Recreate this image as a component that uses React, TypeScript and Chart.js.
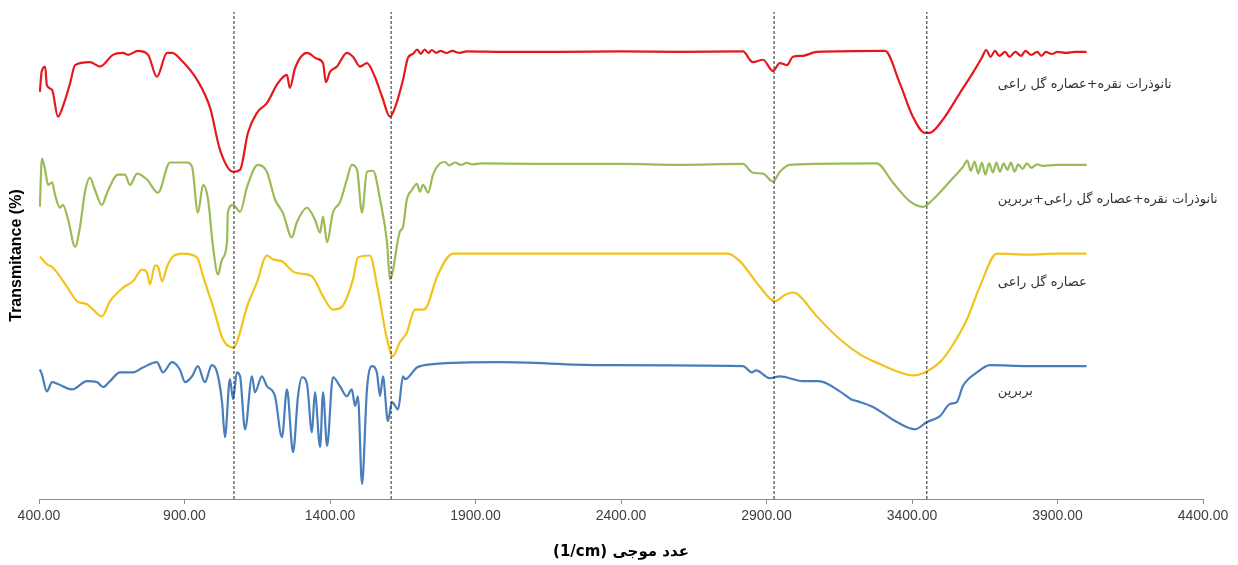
import { useEffect, useRef } from "react";
import { Chart, registerables } from "chart.js";

Chart.register(...registerables);

const X_MIN = 400;
const X_MAX = 4400;
const X_STEP = 500;
const Y_MIN = 0;
const Y_MAX = 100;

const X_TITLE = "\u202Bعدد موجی \u2066(1/cm)\u2069\u202C";
const Y_TITLE = "Transmitance (%)";

const PEAK_LINES = [1070, 1610, 2926, 3451];

const SERIES_NAMES = [
  "نانوذرات نقره+عصاره گل راعی",
  "نانوذرات نقره+عصاره گل راعی+بربرین",
  "عصاره گل راعی",
  "بربرین",
];
const SERIES_COLORS = ["#E5191C", "#9BBB59", "#F2C31B", "#4A7EBB"];
const LABEL_WN = 3695;
const LABEL_T = [85.0, 61.5, 44.5, 22.1];

// Silver nanoparticles + extract (red)
const agNpExtract: [number, number][] = [
  [403, 83.6], [409, 87.7], [421, 88.8], [427, 85.0], [445, 84.0], [465, 78.5], [482, 80.6], [507, 85.4],
  [524, 89.1], [575, 89.7], [610, 88.8], [654, 91.2], [689, 91.6], [706, 91.2], [740, 92.0], [775, 91.2],
  [805, 86.7], [840, 91.6], [857, 91.6], [891, 90.0], [943, 86.1], [988, 80.3], [1022, 71.7], [1067, 67.2],
  [1091, 67.6], [1118, 75.2], [1149, 79.3], [1183, 81.3], [1221, 85.4], [1252, 87.1], [1262, 84.4], [1280, 88.5],
  [1321, 91.6], [1355, 90.4], [1376, 89.5], [1386, 85.6], [1400, 87.7], [1424, 88.8], [1458, 91.6], [1479, 90.8],
  [1503, 88.8], [1527, 89.5], [1554, 86.7], [1579, 82.6], [1606, 78.5], [1623, 80.3], [1651, 86.1], [1668, 90.6],
  [1685, 91.4], [1700, 92.3], [1712, 91.4], [1725, 92.3], [1738, 91.6], [1750, 92.2], [1765, 91.6], [1780, 92.0],
  [1800, 91.6], [1820, 92.0], [1845, 91.6], [1870, 91.9], [2000, 91.8], [2200, 91.8], [2400, 91.9], [2600, 91.8],
  [2819, 91.9], [2853, 89.7], [2888, 90.2], [2922, 87.9], [2946, 89.5], [2970, 89.1], [2991, 90.8], [3025, 91.0],
  [3073, 91.8], [3307, 92.0], [3358, 85.4], [3403, 78.5], [3444, 75.2], [3461, 75.2], [3506, 77.9], [3565, 83.4],
  [3609, 87.5], [3640, 90.6], [3655, 92.2], [3670, 90.8], [3685, 92.0], [3700, 91.0], [3720, 91.8], [3735, 90.8],
  [3755, 91.8], [3775, 91.0], [3790, 92.0], [3810, 91.2], [3830, 91.8], [3845, 91.0], [3860, 91.8], [3880, 91.4],
  [3900, 91.8], [3930, 91.6], [3960, 91.8], [4000, 91.8],
];

// Silver nanoparticles + extract + berberine (green)
const agNpExtractBerberine: [number, number][] = [
  [403, 60.0], [410, 69.9], [421, 67.6], [431, 64.5], [445, 65.0], [455, 62.5], [472, 59.8], [482, 60.4],
  [500, 57.4], [524, 51.8], [541, 55.9], [558, 63.1], [575, 66.0], [592, 63.5], [616, 60.4], [634, 62.9],
  [671, 66.6], [695, 66.6], [713, 64.5], [737, 66.8], [771, 65.6], [809, 62.9], [850, 69.1], [909, 69.1],
  [926, 68.2], [946, 58.8], [964, 64.5], [981, 61.5], [998, 51.8], [1015, 46.1], [1029, 49.2], [1046, 52.7],
  [1049, 58.8], [1067, 60.4], [1091, 59.0], [1115, 64.1], [1152, 68.6], [1183, 67.2], [1211, 61.5], [1238, 58.8],
  [1269, 53.7], [1286, 56.8], [1321, 59.8], [1348, 57.4], [1366, 54.7], [1376, 58.0], [1390, 52.7], [1410, 58.8],
  [1434, 60.9], [1458, 65.6], [1475, 68.6], [1493, 67.6], [1510, 58.8], [1527, 67.2], [1548, 67.4], [1572, 61.5],
  [1596, 52.7], [1606, 45.1], [1640, 54.9], [1651, 55.9], [1664, 61.5], [1682, 63.5], [1699, 64.7], [1709, 63.1],
  [1720, 64.5], [1737, 62.9], [1754, 66.6], [1778, 68.9], [1795, 69.2], [1810, 68.5], [1830, 69.1], [1850, 68.6],
  [1870, 69.0], [1890, 68.7], [1920, 68.9], [2100, 68.8], [2400, 68.8], [2600, 68.6], [2819, 68.8], [2853, 67.0],
  [2888, 66.8], [2922, 65.2], [2946, 67.2], [2980, 68.6], [3279, 68.9], [3334, 65.0], [3393, 61.1], [3437, 60.0],
  [3472, 61.5], [3530, 65.2], [3575, 68.2], [3590, 69.5], [3602, 67.4], [3615, 69.3], [3628, 66.8], [3640, 69.1],
  [3652, 66.6], [3665, 68.9], [3678, 67.0], [3690, 69.1], [3702, 67.2], [3715, 68.9], [3728, 67.6], [3740, 69.1],
  [3752, 67.2], [3765, 68.7], [3780, 67.8], [3795, 68.9], [3810, 68.0], [3830, 68.7], [3850, 68.4], [3900, 68.6],
  [3950, 68.6], [4000, 68.6],
];

// Extract (yellow)
const extractOnly: [number, number][] = [
  [403, 49.8], [427, 48.2], [448, 47.5], [496, 43.6], [531, 40.6], [565, 40.0], [586, 38.9], [616, 37.5],
  [644, 40.6], [689, 43.4], [723, 44.7], [754, 47.1], [771, 46.5], [781, 44.1], [799, 48.0], [809, 47.7],
  [823, 44.7], [840, 47.7], [860, 49.8], [895, 50.4], [943, 49.6], [964, 45.7], [998, 39.5], [1032, 32.8],
  [1067, 31.1], [1080, 32.2], [1115, 39.5], [1149, 44.5], [1183, 50.0], [1204, 49.2], [1235, 48.8], [1273, 46.7],
  [1297, 46.3], [1338, 45.7], [1376, 41.6], [1410, 38.9], [1441, 39.5], [1479, 45.1], [1496, 49.6], [1537, 50.0],
  [1561, 44.1], [1596, 32.8], [1616, 29.3], [1640, 32.2], [1664, 34.2], [1692, 38.9], [1719, 38.9], [1733, 39.5],
  [1768, 45.7], [1823, 50.4], [2000, 50.4], [2300, 50.4], [2600, 50.4], [2767, 50.4], [2809, 48.8], [2877, 43.6],
  [2929, 40.6], [2960, 41.8], [2991, 42.4], [3008, 42.0], [3073, 37.5], [3152, 32.8], [3221, 29.7], [3290, 27.7],
  [3358, 26.0], [3403, 25.4], [3444, 26.0], [3496, 28.1], [3530, 30.7], [3589, 36.9], [3633, 43.6], [3692, 50.4],
  [3800, 50.2], [3900, 50.4], [4000, 50.4],
];

// Berberine (blue)
const berberine: [number, number][] = [
  [403, 26.6], [410, 25.6], [427, 22.1], [445, 24.0], [465, 23.6], [513, 22.5], [565, 24.2], [599, 24.0],
  [620, 23.0], [644, 24.2], [678, 26.0], [723, 26.0], [757, 27.0], [805, 28.1], [826, 26.0], [857, 28.1],
  [884, 26.6], [902, 24.0], [926, 25.2], [946, 27.3], [970, 24.0], [994, 27.5], [1012, 26.0], [1029, 19.9],
  [1039, 12.7], [1056, 24.6], [1067, 20.5], [1080, 26.0], [1091, 25.2], [1108, 14.3], [1132, 25.2], [1142, 21.9],
  [1166, 25.2], [1183, 23.2], [1211, 21.1], [1235, 12.7], [1252, 22.5], [1273, 9.6], [1290, 21.1], [1304, 25.0],
  [1321, 23.6], [1338, 13.7], [1348, 21.9], [1366, 10.7], [1376, 21.9], [1390, 10.9], [1410, 25.0], [1434, 23.2],
  [1458, 21.1], [1475, 22.5], [1486, 19.1], [1496, 21.1], [1510, 3.1], [1527, 22.5], [1544, 27.3], [1561, 26.0],
  [1572, 21.1], [1582, 25.2], [1599, 16.0], [1613, 19.9], [1634, 18.4], [1651, 25.2], [1658, 24.6], [1699, 27.0],
  [1754, 27.7], [1984, 28.1], [2328, 27.5], [2819, 27.3], [2850, 26.0], [2864, 26.4], [2912, 24.8], [2946, 25.2],
  [3025, 24.2], [3080, 24.2], [3152, 22.1], [3190, 20.5], [3211, 20.1], [3266, 18.9], [3348, 15.8], [3410, 14.3],
  [3451, 15.8], [3496, 17.0], [3530, 19.5], [3554, 19.9], [3575, 23.2], [3623, 26.0], [3668, 27.5], [3800, 27.3],
  [4000, 27.3],
];

const SERIES = [agNpExtract, agNpExtractBerberine, extractOnly, berberine];

const labelPlugin = {
  id: "seriesLabels",
  afterDatasetsDraw(chart: any) {
    const { ctx, scales } = chart;
    const x = scales.x;
    const y = scales.y;
    ctx.save();
    ctx.font = "13px 'DejaVu Sans'";
    ctx.fillStyle = "#333333";
    ctx.textBaseline = "middle";
    ctx.direction = "rtl";
    ctx.textAlign = "left";
    SERIES_NAMES.forEach((name, i) => {
      ctx.fillText(name, x.getPixelForValue(LABEL_WN), y.getPixelForValue(LABEL_T[i]));
    });
    ctx.restore();
  },
};

export default function App() {
  const canvasRef = useRef<HTMLCanvasElement | null>(null);

  useEffect(() => {
    if (!canvasRef.current) return;
    const datasets: any[] = SERIES.map((pts, i) => ({
      label: SERIES_NAMES[i],
      data: pts.map(([wn, t]) => ({ x: wn, y: t })),
      borderColor: SERIES_COLORS[i],
      backgroundColor: SERIES_COLORS[i],
      borderWidth: 2.2,
      pointRadius: 0,
      cubicInterpolationMode: "monotone",
      fill: false,
      order: 2,
    }));
    PEAK_LINES.forEach((wn) => {
      datasets.push({
        label: "peak " + wn,
        data: [
          { x: wn, y: Y_MIN },
          { x: wn, y: Y_MAX },
        ],
        borderColor: "#222222",
        borderWidth: 1,
        borderDash: [3, 2],
        pointRadius: 0,
        fill: false,
        order: 1,
      });
    });

    const chart = new Chart(canvasRef.current, {
      type: "line",
      data: { datasets },
      plugins: [labelPlugin],
      options: {
        animation: false,
        responsive: true,
        maintainAspectRatio: false,
        layout: { padding: { top: 12, right: 35, left: 0, bottom: 0 } },
        plugins: { legend: { display: false }, tooltip: { enabled: false } },
        scales: {
          x: {
            type: "linear",
            min: X_MIN,
            max: X_MAX,
            ticks: {
              stepSize: X_STEP,
              autoSkip: false,
              maxRotation: 0,
              padding: 4,
              color: "#404040",
              font: { family: "'Liberation Sans', Arial", size: 14 },
              callback: (v: any) => Number(v).toFixed(2),
            },
            grid: { display: true, drawOnChartArea: false, drawTicks: true, tickLength: 5, color: "#8c8c8c" },
            border: { display: true, color: "#8c8c8c", width: 1 },
            title: {
              display: true,
              text: X_TITLE,
              color: "#000000",
              font: { family: "'DejaVu Sans'", size: 15, weight: "bold" },
              padding: { top: 4, bottom: 4 },
            },
            afterFit: (s: any) => {
              s.height = 66;
            },
          },
          y: {
            type: "linear",
            min: Y_MIN,
            max: Y_MAX,
            ticks: { display: false },
            grid: { display: false },
            border: { display: false },
            title: {
              display: true,
              text: Y_TITLE,
              color: "#000000",
              font: { family: "'Liberation Sans', Arial", size: 16, weight: "bold" },
              padding: { top: 7, bottom: 0 },
            },
            afterFit: (s: any) => {
              s.width = 39;
            },
          },
        },
      },
    });
    return () => chart.destroy();
  }, []);

  return (
    <div style={{ position: "fixed", left: 0, top: 0, width: 1238, height: 565, background: "#ffffff" }}>
      <canvas ref={canvasRef} />
    </div>
  );
}
